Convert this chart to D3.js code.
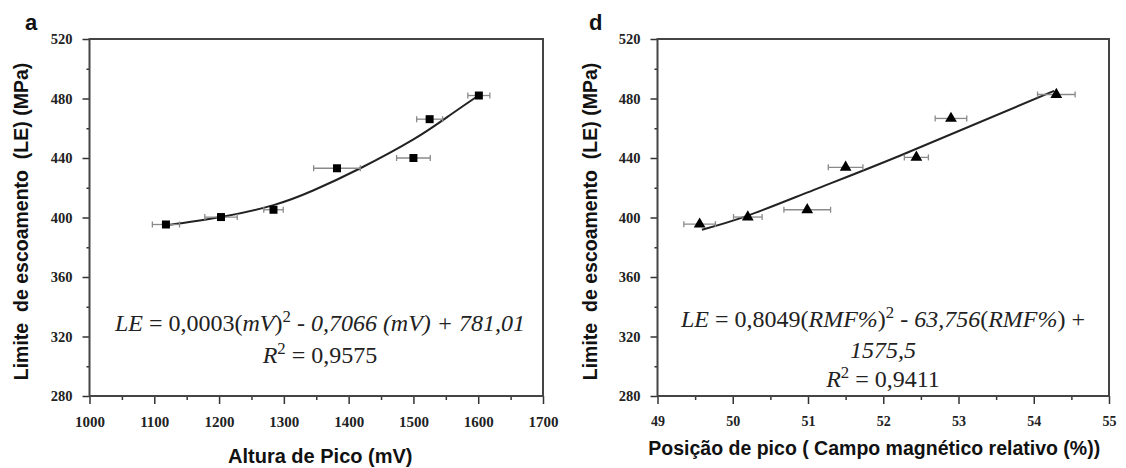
<!DOCTYPE html>
<html><head><meta charset="utf-8">
<script src="https://cdn.jsdelivr.net/npm/d3@7"></script>
<style>body{margin:0;background:#fff}svg text{white-space:pre}</style>
</head><body><svg id="c" width="1126" height="468"></svg>
<script>
// ---- data ----
const peakHeight = [1118, 1203, 1284, 1382, 1500, 1525, 1601];      // mV
const yieldA     = [395.3, 400.3, 405.2, 433.1, 440.0, 466.1, 482.0]; // MPa
const errA       = [21, 25, 15, 36, 26, 20, 17];                     // ± mV
const fitAx      = [1118, 1203, 1284, 1346, 1418, 1500, 1552, 1601];
const fitAy      = [394.7, 400.3, 408.3, 418.3, 433.1, 452.5, 467.5, 482.2];

const peakPos    = [49.56, 50.20, 50.99, 51.50, 52.44, 52.90, 54.30]; // %
const yieldD     = [395.5, 400.3, 405.2, 433.7, 440.4, 466.6, 482.7]; // MPa
const errD       = [0.21, 0.19, 0.31, 0.23, 0.16, 0.21, 0.25];        // ± %
const fitDx      = [49.59, 50.19, 51.08, 52.22, 54.27];
const fitDy      = [391.8, 401.1, 418.6, 441.5, 485.1];

const yTicks     = [280, 320, 360, 400, 440, 480, 520];
const yMinor     = [300, 340, 380, 420, 460, 500];
const xTicksA    = [1000, 1100, 1200, 1300, 1400, 1500, 1600, 1700];
const xMinorA    = [1050, 1150, 1250, 1350, 1450, 1550, 1650];
const xTicksD    = [49, 50, 51, 52, 53, 54, 55];
const xMinorD    = [49.5, 50.5, 51.5, 52.5, 53.5, 54.5];

const yTitle  = "Limite  de escoamento  (LE) (MPa)";
const xTitleA = "Altura de Pico (mV)";
const xTitleD = "Posição de pico ( Campo magnético relativo (%))";

// equation segments: [text, style]  i = italic, n = normal, s = superscript
const eqA = [
  [["LE","i"],[" = 0,0003(","n"],["mV","i"],[")","n"],["2","s"],[" - ","n"],["0,7066 (mV) + 781,01","i"]],
  [["R","i"],["2","s"],[" = 0,9575","n"]]
];
const eqD = [
  [["LE","i"],[" = 0,8049(","n"],["RMF%","i"],[")","n"],["2","s"],[" - ","n"],["63,756","i"],["(","n"],["RMF%","i"],[") +","n"]],
  [["1575,5","i"]],
  [["R","i"],["2","s"],[" = 0,9411","n"]]
];

const svg = d3.select("#c");

function panel(o) {
  const x = d3.scaleLinear().domain(o.xDomain).range([o.left, o.right]);
  const y = d3.scaleLinear().domain([280, 520]).range([o.bottom, o.top]);
  const g = svg.append("g");

  // minor ticks
  g.append("g").attr("transform", `translate(${o.left},0)`)
    .call(d3.axisLeft(y).tickValues(yMinor).tickSize(3).tickFormat(""))
    .call(s => s.select(".domain").remove());
  g.append("g").attr("transform", `translate(0,${o.bottom})`)
    .call(d3.axisBottom(x).tickValues(o.xMinor).tickSize(4).tickFormat(""))
    .call(s => s.select(".domain").remove());
  // major ticks
  const ya = g.append("g").attr("transform", `translate(${o.left},0)`)
    .call(d3.axisLeft(y).tickValues(yTicks).tickSize(7).tickPadding(10).tickFormat(d3.format("d")));
  ya.select(".domain").remove();
  const xa = g.append("g").attr("transform", `translate(0,${o.bottom})`)
    .call(d3.axisBottom(x).tickValues(o.xTicks).tickSize(8).tickPadding(12).tickFormat(d3.format("d")));
  xa.select(".domain").remove();
  g.selectAll(".tick line").attr("stroke", "#333").attr("stroke-width", 1.5);
  ya.selectAll("text").attr("font-family", "Liberation Serif").attr("font-weight", "bold")
    .attr("font-size", 14.5).attr("fill", "#222");
  xa.selectAll("text").attr("font-family", "Liberation Serif").attr("font-weight", "bold")
    .attr("font-size", o.xFont).attr("fill", "#222");

  // frame
  g.append("rect").attr("x", o.left).attr("y", o.top)
    .attr("width", o.right - o.left).attr("height", o.bottom - o.top)
    .attr("fill", "none").attr("stroke", "#444").attr("stroke-width", 2);

  // fit curve
  const line = d3.line().x(d => x(d[0])).y(d => y(d[1])).curve(d3.curveNatural);
  g.append("path").datum(o.fx.map((v, i) => [v, o.fy[i]]))
    .attr("d", line).attr("fill", "none").attr("stroke", "#222").attr("stroke-width", 2);

  // error bars
  const pts = o.px.map((v, i) => ({x: v, y: o.py[i], e: o.pe[i]}));
  const eb = g.append("g").attr("stroke", "#8a8a8a").attr("stroke-width", 1.3);
  pts.forEach(p => {
    const cy = y(p.y), x0 = x(p.x - p.e), x1 = x(p.x + p.e);
    eb.append("line").attr("x1", x0).attr("x2", x1).attr("y1", cy).attr("y2", cy);
    eb.append("line").attr("x1", x0).attr("x2", x0).attr("y1", cy - 3).attr("y2", cy + 3);
    eb.append("line").attr("x1", x1).attr("x2", x1).attr("y1", cy - 3).attr("y2", cy + 3);
  });

  // markers
  const sym = d3.symbol().type(o.symbol).size(o.symSize);
  g.selectAll(".pt").data(pts).join("path")
    .attr("transform", d => `translate(${x(d.x)},${y(d.y)})`)
    .attr("d", sym).attr("fill", "#000");

  // equation
  o.eq.forEach((segs, li) => {
    const t = g.append("text").attr("x", o.eqCx).attr("y", o.eqY[li])
      .attr("text-anchor", "middle").attr("font-family", "Liberation Serif")
      .attr("font-size", o.eqFont).attr("fill", "#222");
    let up = false;
    segs.forEach(([txt, st]) => {
      const ts = t.append("tspan").text(txt);
      if (st === "i") ts.attr("font-style", "italic");
      if (st === "s") { ts.attr("dy", -9).attr("font-size", o.eqFont * 0.7); up = true; }
      else if (up) { ts.attr("dy", 9); up = false; }
    });
  });

  // axis titles
  svg.append("text").attr("transform", `translate(${o.yTitleX},${(o.top + o.bottom) / 2 + 4}) rotate(-90)`)
    .attr("text-anchor", "middle").attr("dominant-baseline", "middle")
    .attr("font-family", "Liberation Sans").attr("font-weight", "bold").attr("font-size", 19.5)
    .attr("fill", "#111").text(yTitle);
  svg.append("text").attr("x", (o.left + o.right) / 2 + o.xTitleDx).attr("y", o.xTitleY)
    .attr("text-anchor", "middle").attr("dominant-baseline", "middle")
    .attr("font-family", "Liberation Sans").attr("font-weight", "bold").attr("font-size", o.xTitleFont)
    .attr("fill", "#111").text(o.xTitle);
  svg.append("text").attr("x", o.tagX).attr("y", 30)
    .attr("font-family", "Liberation Sans").attr("font-weight", "bold").attr("font-size", 22)
    .attr("fill", "#111").text(o.tag);
}

panel({
  left: 89.5, right: 543, top: 39, bottom: 396,
  xDomain: [1000, 1700], xTicks: xTicksA, xMinor: xMinorA, xFont: 15,
  px: peakHeight, py: yieldA, pe: errA, fx: fitAx, fy: fitAy,
  symbol: d3.symbolSquare, symSize: 64,
  eq: eqA, eqY: [331, 363], eqCx: 320, eqFont: 24,
  yTitleX: 23, xTitle: xTitleA, xTitleY: 458, xTitleDx: 4, xTitleFont: 20,
  tag: "a", tagX: 25
});
panel({
  left: 657.5, right: 1109, top: 39, bottom: 396,
  xDomain: [49, 55], xTicks: xTicksD, xMinor: xMinorD, xFont: 14,
  px: peakPos, py: yieldD, pe: errD, fx: fitDx, fy: fitDy,
  symbol: d3.symbolTriangle, symSize: 60,
  eq: eqD, eqY: [327, 358, 387], eqCx: 883, eqFont: 24,
  yTitleX: 592, xTitle: xTitleD, xTitleY: 450, xTitleDx: -9, xTitleFont: 19.5,
  tag: "d", tagX: 589
});
</script></body></html>
